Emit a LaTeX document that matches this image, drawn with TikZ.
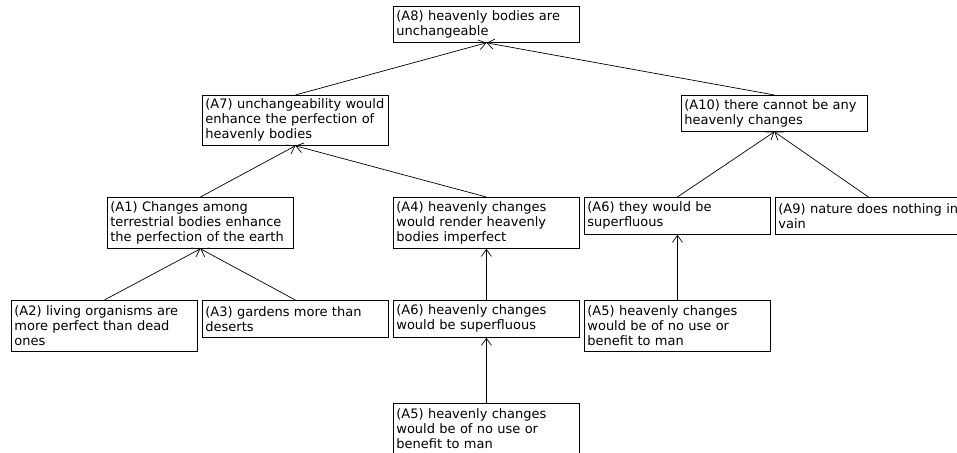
\documentclass[tikz,border=0pt]{standalone}
\usepackage{fontspec}
\setmainfont{DejaVu Sans}
\usetikzlibrary{arrows.meta}

\begin{document}
\begin{tikzpicture}[x=1pt,y=-1pt,
  claim/.style={draw,line width=0.8pt,anchor=north west,align=left,inner xsep=3pt,inner ysep=2pt,text width=180pt,font=\fontsize{13}{15}\selectfont},
  support/.style={line width=0.7pt,-{Straight Barb[length=7pt,width=10pt]}}]
\useasboundingbox (0,0) rectangle (957,452);

\node[claim,minimum height=36pt] (a8) at (393,6) {(A8) heavenly bodies are\\unchangeable};
\node[claim,minimum height=50pt] (a7) at (202,95) {(A7) unchangeability would\\enhance the perfection of\\heavenly bodies};
\node[claim,minimum height=36pt] (a10) at (681,95) {(A10) there cannot be any\\heavenly changes};
\node[claim,minimum height=51pt] (a1) at (107,197) {(A1) Changes among\\terrestrial bodies enhance\\the perfection of the earth};
\node[claim,minimum height=51pt] (a4) at (393,197) {(A4) heavenly changes\\would render heavenly\\bodies imperfect};
\node[claim,minimum height=37pt] (a6r) at (584,197) {(A6) they would be\\superfluous};
\node[claim,minimum height=37pt] (a9) at (775,197) {(A9) nature does nothing in\\vain};
\node[claim,minimum height=51pt] (a2) at (11,300) {(A2) living organisms are\\more perfect than dead\\ones};
\node[claim,minimum height=37pt] (a3) at (202,300) {(A3) gardens more than\\deserts};
\node[claim,minimum height=37pt] (a6m) at (393,300) {(A6) heavenly changes\\would be superfluous};
\node[claim,minimum height=51pt] (a5r) at (584,300) {(A5) heavenly changes\\would be of no use or\\benefit to man};
\node[claim,minimum height=51pt] (a5b) at (393,403) {(A5) heavenly changes\\would be of no use or\\benefit to man};

\draw[support] (a7.north) -- (a8.south);
\draw[support] (a10.north) -- (a8.south);
\draw[support] (a1.north) -- (a7.south);
\draw[support] (a4.north) -- (a7.south);
\draw[support] (a6r.north) -- (a10.south);
\draw[support] (a9.north) -- (a10.south);
\draw[support] (a2.north) -- (a1.south);
\draw[support] (a3.north) -- (a1.south);
\draw[support] (a6m.north) -- (a4.south);
\draw[support] (a5r.north) -- (a6r.south);
\draw[support] (a5b.north) -- (a6m.south);
\end{tikzpicture}
\end{document}
